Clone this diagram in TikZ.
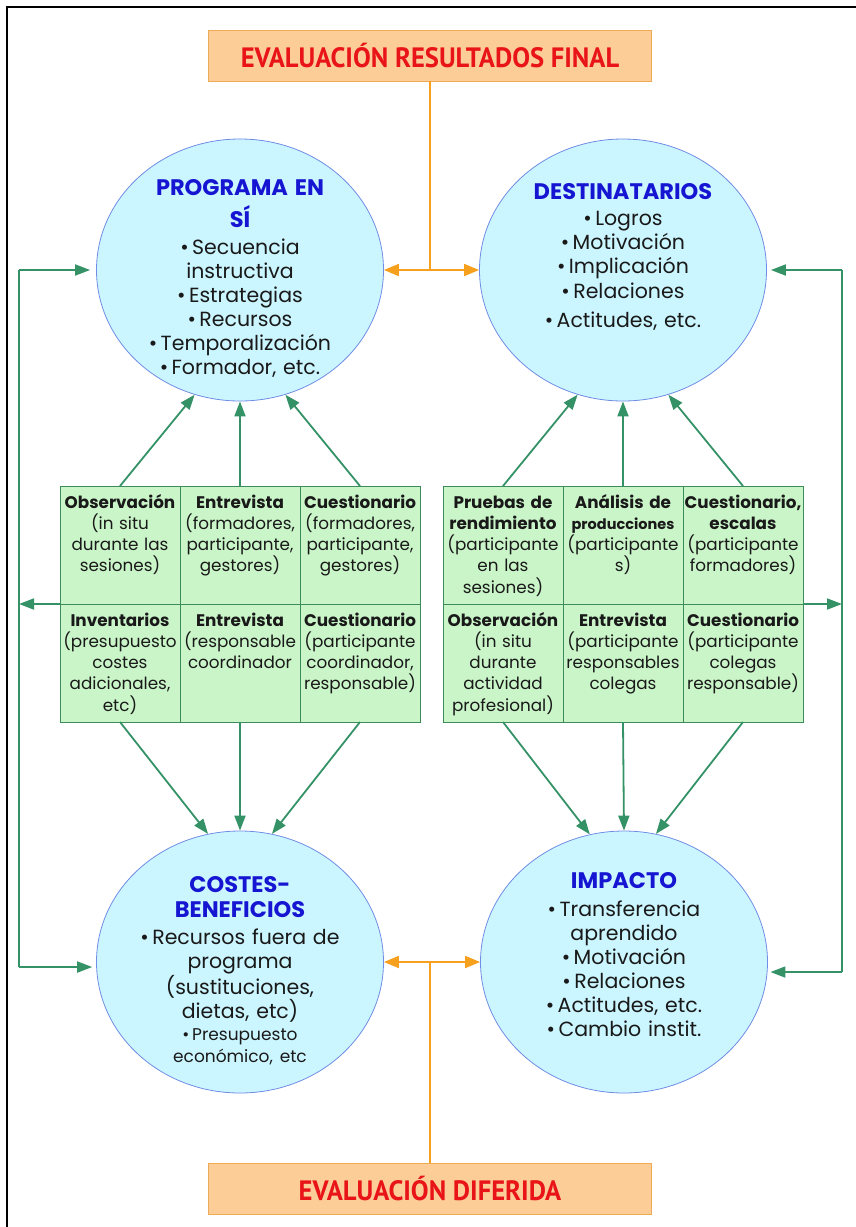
\documentclass[tikz,border=0pt]{standalone}
\usepackage{fontspec}
\setmainfont{Poppins}
\newfontfamily\evalfont{PT Sans}
\usepackage{tikz}
\usetikzlibrary{shapes.geometric,arrows.meta,positioning}

\definecolor{circfill}{RGB}{204,246,255}
\definecolor{circline}{RGB}{112,140,228}
\definecolor{ttlblue}{RGB}{22,22,210}
\definecolor{cellfill}{RGB}{202,245,200}
\definecolor{cellline}{RGB}{62,140,92}
\definecolor{arrowgreen}{RGB}{52,146,102}
\definecolor{evalfill}{RGB}{252,205,150}
\definecolor{evalline}{RGB}{238,170,84}
\definecolor{linkorange}{RGB}{247,160,30}
\definecolor{evalred}{RGB}{232,20,24}

\newcommand{\ttl}{\color{ttlblue}\bfseries\fontsize{22.5}{24}\selectfont}
\newcommand{\bul}{\textbullet\,}

\begin{document}
\begin{tikzpicture}[
      x=1pt, y=-1pt,
      circ/.style={
        ellipse,
        draw=circline, thick, fill=circfill,
        minimum width=287pt,
        minimum height=262pt,
        inner sep=-60pt,
        text width=240pt, align=center,
        text height=0pt,
        text=black!90,
        font=\fontsize{20.5}{24}\selectfont
      },
      cell/.style={
        rectangle,
        draw=cellline, thick, fill=cellfill,
        text width=117pt, align=center,
        text height=20.5pt, text depth=94.5pt,
        inner xsep=1.5pt, inner ysep=1.5pt, outer sep=0pt,
        text=black!90,
        font=\fontsize{16.8}{21.3}\selectfont
      },
      evalbox/.style={
        rectangle,
        draw=evalline, fill=evalfill,
        minimum width=443pt,
        minimum height=51pt,
        inner sep=0pt,
        text=evalred,
        font=\evalfont\bfseries\fontsize{28}{28}\selectfont
      },
      garrow/.style={
        -{Triangle[length=15pt,width=11pt]},
        draw=arrowgreen, line width=1.8pt
      },
      gline/.style={draw=arrowgreen, line width=1.8pt},
      oarrow/.style={
        {Triangle[length=15pt,width=12pt]}-{Triangle[length=15pt,width=12pt]},
        draw=linkorange, line width=1.8pt
      },
      linkline/.style={draw=linkorange, line width=2pt}
    ]
      \useasboundingbox (0,0) rectangle (856,1227);
      \draw[line width=1.8pt] (7,1227) -- (7,7) -- (856,7);

      \node[evalbox] (ftop) at (430,55.5) {\scalebox{0.95}[1]{EVALUACIÓN RESULTADOS FINAL}};
      \node[evalbox] (fbot) at (430,1188.5) {\scalebox{0.95}[1]{EVALUACIÓN DIFERIDA}};

      \node[circ, text depth=149pt] (prog) at (240,270) {{\ttl PROGRAMA EN}\\[8pt]{\ttl SÍ}\\[2.5pt]\bul Secuencia\\instructiva\\\bul Estrategias\\\bul Recursos\\\bul Temporalización\\\bul Formador, etc.};
      \node[circ, text depth=141pt] (dest) at (623,270) {{\ttl DESTINATARIOS}\\[1.5pt]\bul Logros\\\bul Motivación\\\bul Implicación\\[1.5pt]\bul Relaciones\\[5pt]\bul Actitudes, etc.};
      \node[circ, text depth=139pt] (cost) at (240,962) {{\ttl COSTES-}\\[1pt]{\ttl BENEFICIOS}\\[3pt]\bul Recursos fuera de\\programa\\(sustituciones,\\dietas, etc)\\[-2pt]{\fontsize{17}{20}\selectfont\bul Presupuesto}\\[-2pt]{\fontsize{17}{20}\selectfont económico, etc}};
      \node[circ, text depth=148pt] (imp) at (624,962) {{\ttl IMPACTO}\\[4pt]\bul Transferencia\\aprendido\\\bul Motivación\\\bul Relaciones\\\bul Actitudes, etc.\\\bul Cambio instit.};

      \node[cell, anchor=north west] (lc1) at (60,486) {\textbf{Observación}\\(in situ\\durante las\\sesiones)};
      \node[cell, right=0pt of lc1] (lc2) {\textbf{Entrevista}\\(formadores,\\participante,\\gestores)};
      \node[cell, right=0pt of lc2] (lc3) {\textbf{Cuestionario}\\(formadores,\\participante,\\gestores)};
      \node[cell, below=0pt of lc1] (lc4) {\textbf{Inventarios}\\(presupuesto\\costes\\adicionales,\\etc)};
      \node[cell, right=0pt of lc4] (lc5) {\textbf{Entrevista}\\(responsable\\coordinador};
      \node[cell, right=0pt of lc5] (lc6) {\textbf{Cuestionario}\\(participante\\coordinador,\\responsable)};

      \node[cell, anchor=north west] (rc1) at (443,486) {\textbf{Pruebas de}\\\textbf{rendimiento}\\(participante\\en las\\sesiones)};
      \node[cell, right=0pt of rc1] (rc2) {\textbf{Análisis de}\\{\fontsize{14.5}{21.3}\selectfont\textbf{producciones}}\\(participante\\s)};
      \node[cell, right=0pt of rc2] (rc3) {\textbf{Cuestionario,}\\\textbf{escalas}\\(participante\\formadores)};
      \node[cell, below=0pt of rc1] (rc4) {\textbf{Observación}\\(in situ\\durante\\actividad\\profesional)};
      \node[cell, right=0pt of rc4] (rc5) {\textbf{Entrevista}\\(participante\\responsables\\colegas};
      \node[cell, right=0pt of rc5] (rc6) {\textbf{Cuestionario}\\(participante\\colegas\\responsable)};

      \coordinate (lbus) at (19,0);
      \coordinate (rbus) at (842,0);

      \draw[garrow] (lc1.north) -- (prog.250);
      \draw[garrow] (lc2.north) -- (prog.south);
      \draw[garrow] (lc3.north) -- (prog.290);
      \draw[garrow] (rc1.north) -- (dest.250);
      \draw[garrow] (rc2.north) -- (dest.south);
      \draw[garrow] (rc3.north) -- (dest.290);
      \draw[garrow] (lc4.south) -- (cost.104);
      \draw[garrow] (lc5.south) -- (cost.north);
      \draw[garrow] (lc6.south) -- (cost.76);
      \draw[garrow] (rc4.south) -- (imp.105);
      \draw[garrow] (rc5.south) -- (imp.north);
      \draw[garrow] (rc6.south) -- (imp.76);

      \draw[gline] (prog.west -| lbus) -- (cost.182 -| lbus);
      \draw[garrow, shorten >=6pt] (prog.west -| lbus) -- (prog.west);
      \draw[garrow, shorten >=4pt] (cost.182 -| lbus) -- (cost.182);
      \draw[garrow] (lc4.north west) -- (lc4.north west -| lbus);

      \draw[gline] (dest.east -| rbus) -- (imp.356 -| rbus);
      \draw[garrow, shorten >=4pt] (dest.east -| rbus) -- (dest.east);
      \draw[garrow, shorten >=3pt] (imp.356 -| rbus) -- (imp.356);
      \draw[garrow] (rc3.south east) -- (rc3.south east -| rbus);

      \draw[linkline] (ftop.south) -- (ftop.south |- prog.east);
      \draw[oarrow] (prog.east) -- (dest.west);
      \draw[linkline] (fbot.north) -- (fbot.north |- cost.east);
      \draw[oarrow] (cost.east) -- (imp.west);
    \end{tikzpicture}
\end{document}
